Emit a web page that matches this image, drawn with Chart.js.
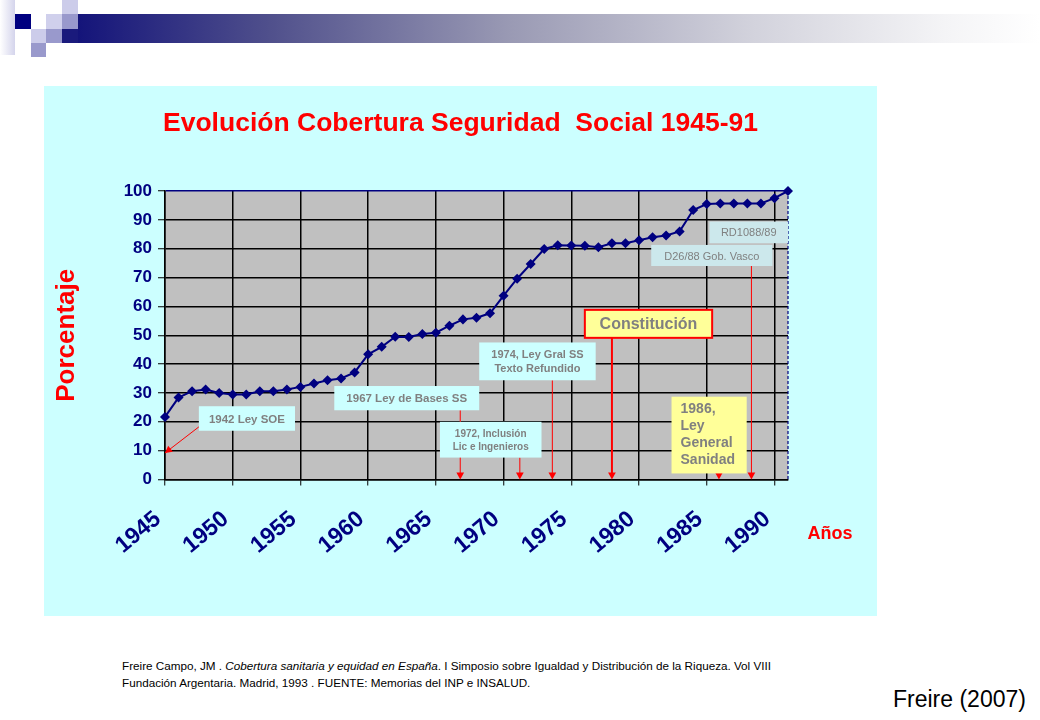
<!DOCTYPE html>
<html>
<head>
<meta charset="utf-8">
<script src="https://cdn.jsdelivr.net/npm/chart.js@4.4.0/dist/chart.umd.min.js"></script>
<style>
  html, body { margin: 0; padding: 0; }
  body { width: 1040px; height: 720px; background: #ffffff; position: relative; overflow: hidden;
         font-family: "Liberation Sans", Arial, sans-serif; }
  .sq { position: absolute; }
  #wrap { position: absolute; left: 44px; top: 86px; width: 833px; height: 530px; background: #ccffff; }
  #foot { position: absolute; left: 122px; top: 657px; font-size: 11.7px; line-height: 17px; color: #000; white-space: nowrap; }
  #cite { position: absolute; left: 893px; top: 686px; font-size: 23px; color: #000; }
</style>
</head>
<body>
<!-- header decoration -->
<div class="sq" style="left:0;top:0;width:15px;height:55px;background:linear-gradient(to right,#ffffff,#d4d4ec);"></div>
<div class="sq" style="left:15px;top:14px;width:16px;height:15px;background:#000080;"></div>
<div class="sq" style="left:62px;top:0;width:16px;height:14px;background:#ccccea;"></div>
<div class="sq" style="left:46px;top:14px;width:16px;height:15px;background:#d0d0ec;"></div>
<div class="sq" style="left:62px;top:14px;width:16px;height:15px;background:#9999cc;"></div>
<div class="sq" style="left:31px;top:29px;width:15px;height:14px;background:#ccccea;"></div>
<div class="sq" style="left:46px;top:29px;width:16px;height:14px;background:#9999cc;"></div>
<div class="sq" style="left:31px;top:43px;width:15px;height:14px;background:#9999cc;"></div>
<div class="sq" style="left:62px;top:29px;width:16px;height:14px;background:#1a1a7c;"></div>
<div class="sq" style="left:78px;top:14px;width:962px;height:29px;background:linear-gradient(to right,#14147a 0%,#50508c 20%,#9a9ab4 45%,#d2d2dc 70%,#f4f4f6 90%,#ffffff 100%);"></div>

<div id="wrap"><canvas id="c" width="833" height="530"></canvas></div>

<div id="foot">Freire Campo, JM . <i>Cobertura sanitaria y equidad en España</i>. I Simposio sobre Igualdad y Distribución de la Riqueza. Vol VIII<br>Fundación Argentaria. Madrid, 1993 . FUENTE: Memorias del INP e INSALUD.</div>
<div id="cite">Freire (2007)</div>

<script>
// ---------- DATA ----------
const years = [1945,1946,1947,1948,1949,1950,1951,1952,1953,1954,
               1955,1956,1957,1958,1959,1960,1961,1962,1963,1964,
               1965,1966,1967,1968,1969,1970,1971,1972,1973,1974,
               1975,1976,1977,1978,1979,1980,1981,1982,1983,1984,
               1985,1986,1987,1988,1989,1990,1991];
const coverage = [21.7,28.4,30.6,31.2,30.0,29.5,29.5,30.6,30.6,31.2,
                  32.1,33.3,34.4,35.0,37.1,43.4,46.0,49.5,49.4,50.4,
                  50.9,53.3,55.5,56.1,57.6,63.7,69.6,74.7,79.9,81.2,
                  81.1,81.0,80.5,81.9,81.9,82.9,84.0,84.6,86.0,93.4,
                  95.5,95.7,95.7,95.7,95.7,97.5,100];
const xTickYears = [1945,1950,1955,1960,1965,1970,1975,1980,1985,1990];
const yTickValues = [0,10,20,30,40,50,60,70,80,90,100];

const titleText = 'Evolución Cobertura Seguridad  Social 1945-91';
const yTitleText = 'Porcentaje';
const xTitleText = 'Años';

// annotation texts and the year they point to
const annoTexts = [
  ['1942 Ley SOE'],
  ['1967 Ley de Bases SS'],
  ['1972, Inclusión', 'Lic e Ingenieros'],
  ['1974, Ley Gral SS', 'Texto Refundido'],
  ['Constitución'],
  ['RD1088/89'],
  ['D26/88 Gob. Vasco'],
  ['1986,', 'Ley', 'General', 'Sanidad']
];
const annoYears = [1945, 1966.8, 1971.2, 1973.6, 1978.0, null, 1988.3, 1985.9];

// ---------- LAYOUT / STYLE OF ANNOTATIONS (data coordinates) ----------
const annoStyle = [
  { box:[1947.5,1954.6,25.4,16.9], font:'bold 11.5px', fill:'#ccffff', slant:[1947.6,18.6,9.2] },
  { box:[1957.5,1968.2,32.4,24.0], font:'bold 11.5px', fill:'#ccffff' },
  { box:[1965.3,1972.8,20.0,7.6],  font:'bold 10px',   fill:'#ccffff', lh:13 },
  { box:[1968.2,1976.8,47.5,34.4], font:'bold 11px',   fill:'#ccffff', lh:14 },
  { box:[1976.0,1985.4,58.8,49.1], font:'bold 16px',   fill:'#ffff99', border:'#ff0000', arrowW:2 },
  { box:[1985.2,1991.0,89.4,81.9], font:'11px',        fill:'#cce8ec' },
  { box:[1980.9,1989.85,81.3,74.0],font:'11px',        fill:'#cce8ec' },
  { box:[1982.4,1987.95,28.7,2.1], font:'bold 14px',   fill:'#ffff99', lh:17, align:'left' }
];

const FONT = '"Liberation Sans", Arial, sans-serif';
const NAVY = '#000080';

function arrowHead(ctx, x, y, angle, size) {
  ctx.save();
  ctx.translate(x, y);
  ctx.rotate(angle);
  ctx.beginPath();
  ctx.moveTo(0, 0);
  ctx.lineTo(-size, -size * 0.55);
  ctx.lineTo(-size, size * 0.55);
  ctx.closePath();
  ctx.fill();
  ctx.restore();
}

const plotBg = {
  id: 'plotBg',
  beforeDraw(chart) {
    const { ctx, chartArea: a } = chart;
    ctx.save();
    ctx.fillStyle = '#c0c0c0';
    ctx.fillRect(a.left, a.top, a.right - a.left, a.bottom - a.top);
    ctx.restore();
  }
};

const annoPlugin = {
  id: 'annos',
  beforeDatasetsDraw(chart) {
    const { ctx, scales: { x, y }, chartArea: a } = chart;
    ctx.save();
    ctx.strokeStyle = NAVY;
    ctx.lineWidth = 1.2;
    ctx.setLineDash([3, 2]);
    ctx.beginPath();
    ctx.moveTo(a.right, a.top);
    ctx.lineTo(a.right, a.bottom);
    ctx.stroke();
    ctx.setLineDash([]);

    annoTexts.forEach((lines, i) => {
      const st = annoStyle[i];
      const x0 = x.getPixelForValue(st.box[0]);
      const x1 = x.getPixelForValue(st.box[1]);
      const y0 = y.getPixelForValue(st.box[2]);
      const y1 = y.getPixelForValue(st.box[3]);
      ctx.strokeStyle = '#ff0000';
      ctx.fillStyle = '#ff0000';
      if (st.slant) {
        const sx = x.getPixelForValue(st.slant[0]);
        const sy = y.getPixelForValue(st.slant[1]);
        const ex = x.getPixelForValue(annoYears[i]);
        const ey = y.getPixelForValue(st.slant[2]);
        ctx.lineWidth = 1;
        ctx.beginPath(); ctx.moveTo(sx, sy); ctx.lineTo(ex, ey); ctx.stroke();
        arrowHead(ctx, ex, ey, Math.atan2(ey - sy, ex - sx), 7);
      } else if (annoYears[i] !== null) {
        const ax = x.getPixelForValue(annoYears[i]);
        const ay = y.getPixelForValue(0);
        ctx.lineWidth = st.arrowW || 1;
        ctx.beginPath(); ctx.moveTo(ax, y1); ctx.lineTo(ax, ay - 4); ctx.stroke();
        arrowHead(ctx, ax, ay, Math.PI / 2, 7);
      }
      ctx.fillStyle = st.fill;
      ctx.fillRect(x0, y0, x1 - x0, y1 - y0);
      if (st.border) {
        ctx.strokeStyle = st.border;
        ctx.lineWidth = 2;
        ctx.strokeRect(x0, y0, x1 - x0, y1 - y0);
      }
      ctx.fillStyle = '#808080';
      ctx.font = st.font + ' ' + FONT;
      ctx.textBaseline = 'middle';
      const lh = st.lh || 14;
      if (st.align === 'left') {
        ctx.textAlign = 'left';
        const startY = y0 + 12;
        lines.forEach((t, k) => ctx.fillText(t, x0 + 9, startY + k * lh));
      } else {
        ctx.textAlign = 'center';
        const cx = (x0 + x1) / 2, cy = (y0 + y1) / 2 + 1;
        const off = (lines.length - 1) * lh / 2;
        lines.forEach((t, k) => ctx.fillText(t, cx, cy - off + k * lh));
      }
    });
    ctx.restore();
  },
  afterDraw(chart) {
    const { ctx, chartArea: a } = chart;
    ctx.save();
    ctx.fillStyle = '#ff0000';
    ctx.font = 'bold 18px ' + FONT;
    ctx.textAlign = 'center';
    ctx.textBaseline = 'middle';
    ctx.fillText(xTitleText, a.right + 42, a.bottom + 55);
    ctx.restore();
  }
};

new Chart(document.getElementById('c'), {
  type: 'line',
  data: {
    datasets: [{
      data: years.map((yr, i) => ({ x: yr, y: coverage[i] })),
      borderColor: NAVY,
      backgroundColor: NAVY,
      borderWidth: 2,
      pointStyle: 'rectRot',
      pointRadius: 3.6,
      pointBackgroundColor: NAVY,
      pointBorderColor: NAVY,
      tension: 0,
      clip: false
    }]
  },
  options: {
    responsive: false,
    animation: false,
    devicePixelRatio: 1,
    layout: { padding: { left: 0, right: 0, top: 0, bottom: 0 } },
    plugins: {
      legend: { display: false },
      tooltip: { enabled: false },
      title: {
        display: true,
        text: titleText,
        color: '#ff0000',
        font: { family: FONT, size: 26.5, weight: 'bold', lineHeight: 1.2 },
        padding: { top: 22, bottom: 51.2 }
      }
    },
    scales: {
      x: {
        type: 'linear',
        min: 1945,
        max: 1991,
        afterBuildTicks: (s) => { s.ticks = xTickYears.map(v => ({ value: v })); },
        afterFit: (s) => { s.height = 136.5; },
        ticks: {
          autoSkip: false,
          minRotation: 40,
          maxRotation: 40,
          labelOffset: -7,
          padding: 20,
          color: NAVY,
          font: { family: FONT, size: 23, weight: 'bold' },
          callback: (v) => String(v)
        },
        grid: { color: '#000000', lineWidth: 1.5, tickLength: 6, tickColor: '#000000', tickWidth: 1 },
        border: { display: true, color: '#000000', width: 1.5 }
      },
      y: {
        min: 0,
        max: 100,
        afterBuildTicks: (s) => { s.ticks = yTickValues.map(v => ({ value: v })); },
        afterFit: (s) => { s.width = 121; },
        ticks: {
          padding: 6,
          color: NAVY,
          font: { family: FONT, size: 17, weight: 'bold' }
        },
        grid: {
          color: (c) => (c.tick && c.tick.value === 100 ? NAVY : '#000000'),
          lineWidth: 1.5, tickLength: 7, tickColor: '#000000', tickWidth: 1
        },
        border: { display: true, color: '#000000', width: 1.5 },
        title: {
          display: true,
          text: yTitleText,
          color: '#ff0000',
          font: { family: FONT, size: 26, weight: 'bold', lineHeight: 1.2 },
          padding: { top: 7, bottom: 0 }
        }
      },
      yR: {
        position: 'right',
        display: true,
        min: 0,
        max: 100,
        afterFit: (s) => { s.width = 89; },
        ticks: { display: false },
        grid: { display: false },
        border: { display: false }
      }
    }
  },
  plugins: [plotBg, annoPlugin]
});
</script>
</body>
</html>
